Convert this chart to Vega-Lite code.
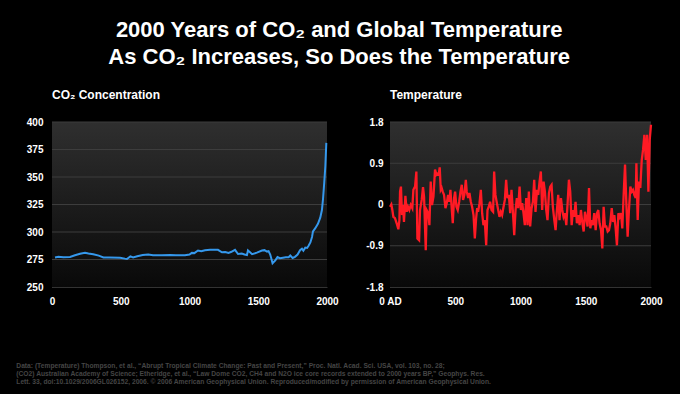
{
  "$schema": "https://vega.github.io/schema/vega-lite/v6.json",
  "background": "black",
  "padding": {"top": 19, "left": 16, "right": 18, "bottom": 9},
  "title": {
    "text": ["2000 Years of CO₂ and Global Temperature", "As CO₂ Increases, So Does the Temperature"],
    "color": "white", "font": "Liberation Sans", "fontSize": 22, "fontWeight": "bold",
    "lineHeight": 27, "anchor": "middle", "offset": 20
  },
  "config": {
    "view": {"stroke": null},
    "axis": {
      "labelColor": "white", "labelFont": "Liberation Sans", "labelFontWeight": "bold",
      "labelFontSize": 10, "ticks": false, "grid": false, "domainColor": "#444", "zindex": 1,
      "labelOverlap": false, "labelFlush": false
    }
  },
  "vconcat": [
    {
      "spacing": 26,
      "title": {
        "text": [
          "Data: (Temperature) Thompson, et al., “Abrupt Tropical Climate Change: Past and Present,” Proc. Natl. Acad. Sci. USA, vol. 103, no. 28;",
          "(CO2) Australian Academy of Science; Etheridge, et al., “Law Dome CO2, CH4 and N2O ice core records extended to 2000 years BP,” Geophys. Res.",
          "Lett. 33, doi:10.1029/2006GL026152, 2006. © 2006 American Geophysical Union. Reproduced/modified by permission of American Geophysical Union."
        ],
        "orient": "bottom", "anchor": "start", "frame": "bounds", "color": "#454545",
        "font": "Liberation Sans", "fontSize": 6.7, "fontWeight": "bold", "lineHeight": 8.2,
        "offset": 57, "dx": -10
      },
      "hconcat": [
        {
          "width": 275, "height": 165,
          "title": {"text": "CO₂ Concentration", "anchor": "start", "frame": "group", "color": "white",
                    "font": "Liberation Sans", "fontSize": 12, "fontWeight": "bold", "offset": 15},
          "layer": [
            {
              "data": {"values": [{}]},
              "mark": {"type": "rect", "color": {"gradient": "linear", "x1": 0, "y1": 0, "x2": 0, "y2": 1,
                "stops": [{"offset": 0, "color": "#2f2f2f"}, {"offset": 1, "color": "#090909"}]}},
              "encoding": {
                "x": {"datum": 0, "type": "quantitative", "title": null, "scale": {"domain": [0, 2000], "nice": false, "zero": false},
                      "axis": {"values": [0, 500, 1000, 1500, 2000], "format": "d", "labelPadding": 9, "domainColor": "#333"}},
                "x2": {"datum": 2000},
                "y": {"datum": 250, "type": "quantitative", "title": null, "scale": {"domain": [250, 400], "nice": false, "zero": false},
                      "axis": {"values": [250, 275, 300, 325, 350, 375, 400], "labelPadding": 9, "domainColor": "#555"}},
                "y2": {"datum": 400}
              }
            },
            {
              "data": {"values": [{"v": 275}, {"v": 300}, {"v": 325}, {"v": 350}, {"v": 375}, {"v": 400}]},
              "mark": {"type": "rule", "color": "#3d3d3d", "strokeWidth": 1},
              "encoding": {"y": {"field": "v", "type": "quantitative", "title": null,
                "scale": {"domain": [250, 400], "nice": false, "zero": false},
                "axis": {"values": [250, 275, 300, 325, 350, 375, 400], "labelPadding": 9, "domainColor": "#555"}}}
            },
            {
              "data": {"values": [
                {"year": 22, "ppm": 276.8}, {"year": 46, "ppm": 277.4}, {"year": 83, "ppm": 277.1}, {"year": 131, "ppm": 277.3},
                {"year": 167, "ppm": 278.8}, {"year": 204, "ppm": 280.2}, {"year": 240, "ppm": 281.2}, {"year": 265, "ppm": 280.4},
                {"year": 300, "ppm": 279.8}, {"year": 340, "ppm": 278.5}, {"year": 374, "ppm": 276.9}, {"year": 420, "ppm": 276.8},
                {"year": 495, "ppm": 276.6}, {"year": 530, "ppm": 275.8}, {"year": 545, "ppm": 275.5}, {"year": 570, "ppm": 277.8},
                {"year": 590, "ppm": 276.8}, {"year": 620, "ppm": 278}, {"year": 660, "ppm": 279}, {"year": 700, "ppm": 279.5},
                {"year": 735, "ppm": 278.8}, {"year": 800, "ppm": 278.8}, {"year": 860, "ppm": 279.2}, {"year": 900, "ppm": 278.8},
                {"year": 967, "ppm": 278.8}, {"year": 1000, "ppm": 279.5}, {"year": 1017, "ppm": 281}, {"year": 1035, "ppm": 280.8},
                {"year": 1062, "ppm": 283.2}, {"year": 1085, "ppm": 282.6}, {"year": 1113, "ppm": 283.4}, {"year": 1150, "ppm": 283.8},
                {"year": 1207, "ppm": 283.8}, {"year": 1236, "ppm": 281.6}, {"year": 1260, "ppm": 281.8}, {"year": 1284, "ppm": 281},
                {"year": 1305, "ppm": 282}, {"year": 1331, "ppm": 283.8}, {"year": 1353, "ppm": 280}, {"year": 1380, "ppm": 280.5},
                {"year": 1400, "ppm": 279.5}, {"year": 1418, "ppm": 279}, {"year": 1425, "ppm": 283.2}, {"year": 1440, "ppm": 281.5},
                {"year": 1455, "ppm": 279.8}, {"year": 1490, "ppm": 281.2}, {"year": 1527, "ppm": 283.2}, {"year": 1545, "ppm": 283.5},
                {"year": 1564, "ppm": 282.2}, {"year": 1575, "ppm": 282.6}, {"year": 1587, "ppm": 279.5}, {"year": 1597, "ppm": 275},
                {"year": 1604, "ppm": 271.6}, {"year": 1624, "ppm": 274.2}, {"year": 1640, "ppm": 277.2}, {"year": 1658, "ppm": 276.2},
                {"year": 1680, "ppm": 276.6}, {"year": 1700, "ppm": 277}, {"year": 1721, "ppm": 277}, {"year": 1733, "ppm": 278.6},
                {"year": 1750, "ppm": 276.4}, {"year": 1767, "ppm": 277.4}, {"year": 1786, "ppm": 279.5}, {"year": 1804, "ppm": 283.4},
                {"year": 1818, "ppm": 284.8}, {"year": 1828, "ppm": 283}, {"year": 1842, "ppm": 285.8}, {"year": 1855, "ppm": 285.5},
                {"year": 1866, "ppm": 287.5}, {"year": 1879, "ppm": 290.5}, {"year": 1891, "ppm": 295.5}, {"year": 1898, "ppm": 300.5},
                {"year": 1915, "ppm": 303.5}, {"year": 1934, "ppm": 307.5}, {"year": 1951, "ppm": 313}, {"year": 1963, "ppm": 320},
                {"year": 1971, "ppm": 330}, {"year": 1980, "ppm": 345}, {"year": 1988, "ppm": 360}, {"year": 1995, "ppm": 381}
              ]},
              "mark": {"type": "line", "color": "#3598ec", "strokeWidth": 2},
              "encoding": {
                "x": {"field": "year", "type": "quantitative", "title": null,
                      "scale": {"domain": [0, 2000], "nice": false, "zero": false},
                      "axis": {"values": [0, 500, 1000, 1500, 2000], "format": "d", "labelPadding": 9, "domainColor": "#333"}},
                "y": {"field": "ppm", "type": "quantitative", "title": null,
                      "scale": {"domain": [250, 400], "nice": false, "zero": false},
                      "axis": {"values": [250, 275, 300, 325, 350, 375, 400], "labelPadding": 9, "domainColor": "#555"}}
              }
            }
          ]
        },
        {
          "width": 261, "height": 165,
          "title": {"text": "Temperature", "anchor": "start", "frame": "group", "color": "white",
                    "font": "Liberation Sans", "fontSize": 12, "fontWeight": "bold", "offset": 15},
          "layer": [
            {
              "data": {"values": [{}]},
              "mark": {"type": "rect", "color": {"gradient": "linear", "x1": 0, "y1": 0, "x2": 0, "y2": 1,
                "stops": [{"offset": 0, "color": "#2f2f2f"}, {"offset": 1, "color": "#090909"}]}},
              "encoding": {
                "x": {"datum": 0, "type": "quantitative", "title": null, "scale": {"domain": [0, 2000], "nice": false, "zero": false},
                      "axis": {"values": [0, 500, 1000, 1500, 2000], "format": "d", "labelPadding": 9, "domainColor": "#333",
                               "labelExpr": "datum.value == 0 ? '0 AD' : datum.label"}},
                "x2": {"datum": 2000},
                "y": {"datum": -1.8, "type": "quantitative", "title": null, "scale": {"domain": [-1.8, 1.8], "nice": false, "zero": false},
                      "axis": {"values": [-1.8, -0.9, 0, 0.9, 1.8], "labelPadding": 7, "domainColor": "#555",
                               "labelExpr": "datum.value == 0 ? '0' : replace(format(datum.value, '.1f'), '−', '-')"}},
                "y2": {"datum": 1.8}
              }
            },
            {
              "data": {"values": [{"v": -0.9}, {"v": 0}, {"v": 0.9}, {"v": 1.8}]},
              "mark": {"type": "rule", "color": "#3d3d3d", "strokeWidth": 1},
              "encoding": {"y": {"field": "v", "type": "quantitative", "title": null,
                "scale": {"domain": [-1.8, 1.8], "nice": false, "zero": false},
                "axis": {"values": [-1.8, -0.9, 0, 0.9, 1.8], "labelPadding": 7, "domainColor": "#555",
                         "labelExpr": "datum.value == 0 ? '0' : replace(format(datum.value, '.1f'), '−', '-')"}}}
            },
            {
              "data": {"values": [
                {"year": 0, "t": -0.05}, {"year": 10, "t": 0.0}, {"year": 18, "t": -0.12}, {"year": 26, "t": -0.27},
                {"year": 38, "t": -0.3}, {"year": 51, "t": -0.41}, {"year": 64, "t": -0.54}, {"year": 72, "t": -0.34},
                {"year": 77, "t": 0.28}, {"year": 84, "t": 0.39}, {"year": 92, "t": -0.23}, {"year": 100, "t": -0.01},
                {"year": 107, "t": -0.38}, {"year": 118, "t": 0.19}, {"year": 128, "t": -0.16}, {"year": 138, "t": -0.05},
                {"year": 148, "t": -0.12}, {"year": 159, "t": -0.01}, {"year": 171, "t": -0.08}, {"year": 179, "t": 0.32},
                {"year": 192, "t": 0.39}, {"year": 202, "t": 0.72}, {"year": 210, "t": -0.74}, {"year": 223, "t": -0.78},
                {"year": 230, "t": -0.12}, {"year": 243, "t": 0.1}, {"year": 253, "t": 0.38}, {"year": 261, "t": 0.17},
                {"year": 274, "t": -1.0}, {"year": 281, "t": -0.12}, {"year": 294, "t": -0.19}, {"year": 302, "t": -0.45},
                {"year": 312, "t": 0.5}, {"year": 322, "t": -0.01}, {"year": 333, "t": 0.17}, {"year": 345, "t": 0.76},
                {"year": 356, "t": 0.65}, {"year": 363, "t": 0.67}, {"year": 373, "t": 0.65}, {"year": 381, "t": 0.81},
                {"year": 389, "t": 0.32}, {"year": 396, "t": 0.36}, {"year": 404, "t": 0.28}, {"year": 414, "t": 0.21},
                {"year": 425, "t": -0.08}, {"year": 435, "t": 0.03}, {"year": 445, "t": 0.21}, {"year": 455, "t": 0.06},
                {"year": 463, "t": 0.32}, {"year": 471, "t": -0.01}, {"year": 481, "t": -0.41}, {"year": 491, "t": 0.14},
                {"year": 499, "t": 0.28}, {"year": 509, "t": -0.05}, {"year": 519, "t": -0.12}, {"year": 530, "t": 0.06},
                {"year": 540, "t": 0.28}, {"year": 550, "t": 0.43}, {"year": 560, "t": 0.1}, {"year": 570, "t": 0.21},
                {"year": 581, "t": 0.54}, {"year": 588, "t": 0.28}, {"year": 599, "t": 0.14}, {"year": 609, "t": 0.25},
                {"year": 619, "t": 0.06}, {"year": 629, "t": -0.05}, {"year": 640, "t": -0.23}, {"year": 650, "t": -0.74},
                {"year": 660, "t": -0.3}, {"year": 668, "t": -0.08}, {"year": 675, "t": -0.16}, {"year": 686, "t": 0.03},
                {"year": 696, "t": 0.32}, {"year": 706, "t": -0.19}, {"year": 716, "t": -0.45}, {"year": 726, "t": -0.34},
                {"year": 737, "t": -0.89}, {"year": 747, "t": -0.12}, {"year": 757, "t": -0.05}, {"year": 767, "t": 0.06},
                {"year": 778, "t": -0.12}, {"year": 790, "t": -0.16}, {"year": 798, "t": 0.72}, {"year": 808, "t": 0.21},
                {"year": 819, "t": 0.03}, {"year": 829, "t": -0.12}, {"year": 839, "t": -0.27}, {"year": 849, "t": -0.16},
                {"year": 859, "t": -0.23}, {"year": 870, "t": -0.05}, {"year": 880, "t": 0.1}, {"year": 890, "t": 0.54},
                {"year": 900, "t": 0.14}, {"year": 911, "t": 0.21}, {"year": 921, "t": -0.19}, {"year": 931, "t": 0.32},
                {"year": 941, "t": -0.12}, {"year": 952, "t": -0.67}, {"year": 962, "t": -0.12}, {"year": 972, "t": 0.14},
                {"year": 982, "t": -0.08}, {"year": 993, "t": 0.39}, {"year": 1003, "t": -0.12}, {"year": 1013, "t": 0.03},
                {"year": 1023, "t": -0.19}, {"year": 1033, "t": -0.45}, {"year": 1044, "t": 0.14}, {"year": 1054, "t": -0.45},
                {"year": 1064, "t": 0.28}, {"year": 1074, "t": -0.48}, {"year": 1085, "t": -0.08}, {"year": 1095, "t": 0.06},
                {"year": 1105, "t": 0.54}, {"year": 1115, "t": -0.16}, {"year": 1126, "t": 0.32}, {"year": 1136, "t": 0.21},
                {"year": 1146, "t": 0.5}, {"year": 1156, "t": 0.72}, {"year": 1166, "t": -0.12}, {"year": 1177, "t": 0.5},
                {"year": 1187, "t": 0.28}, {"year": 1197, "t": -0.12}, {"year": 1207, "t": -0.34}, {"year": 1218, "t": 0.25},
                {"year": 1228, "t": 0.39}, {"year": 1238, "t": 0.43}, {"year": 1248, "t": -0.05}, {"year": 1259, "t": -0.34},
                {"year": 1269, "t": -0.56}, {"year": 1279, "t": -0.12}, {"year": 1289, "t": 0.21}, {"year": 1299, "t": -0.34},
                {"year": 1310, "t": 0.14}, {"year": 1320, "t": -0.12}, {"year": 1330, "t": -0.27}, {"year": 1340, "t": -0.19},
                {"year": 1351, "t": -0.45}, {"year": 1361, "t": 0.03}, {"year": 1371, "t": 0.54}, {"year": 1381, "t": 0.28},
                {"year": 1392, "t": -0.45}, {"year": 1402, "t": -0.12}, {"year": 1412, "t": -0.27}, {"year": 1422, "t": 0.06},
                {"year": 1432, "t": -0.41}, {"year": 1443, "t": -0.23}, {"year": 1453, "t": -0.45}, {"year": 1463, "t": -0.12},
                {"year": 1473, "t": -0.38}, {"year": 1484, "t": -0.59}, {"year": 1494, "t": -0.16}, {"year": 1504, "t": -0.3},
                {"year": 1514, "t": -0.48}, {"year": 1525, "t": 0.36}, {"year": 1535, "t": -0.52}, {"year": 1545, "t": -0.34},
                {"year": 1555, "t": -0.45}, {"year": 1565, "t": -0.19}, {"year": 1576, "t": -0.56}, {"year": 1586, "t": -0.19},
                {"year": 1596, "t": -0.12}, {"year": 1606, "t": -0.41}, {"year": 1617, "t": -0.56}, {"year": 1627, "t": -0.96},
                {"year": 1637, "t": -0.05}, {"year": 1647, "t": -0.48}, {"year": 1657, "t": -0.48}, {"year": 1668, "t": -0.59},
                {"year": 1678, "t": -0.56}, {"year": 1688, "t": -0.41}, {"year": 1699, "t": -0.08}, {"year": 1709, "t": -0.38},
                {"year": 1719, "t": -0.23}, {"year": 1729, "t": -0.52}, {"year": 1739, "t": -0.89}, {"year": 1750, "t": -0.19},
                {"year": 1760, "t": -0.27}, {"year": 1770, "t": -0.19}, {"year": 1780, "t": -0.52}, {"year": 1791, "t": 0.25},
                {"year": 1801, "t": 0.87}, {"year": 1811, "t": 0.03}, {"year": 1821, "t": -0.7}, {"year": 1831, "t": -0.12},
                {"year": 1842, "t": 0.39}, {"year": 1852, "t": 0.28}, {"year": 1862, "t": 0.32}, {"year": 1872, "t": 0.21},
                {"year": 1883, "t": 0.14}, {"year": 1888, "t": 0.9}, {"year": 1898, "t": -0.34}, {"year": 1908, "t": 0.5},
                {"year": 1918, "t": 0.36}, {"year": 1929, "t": 0.97}, {"year": 1939, "t": 1.19}, {"year": 1949, "t": 1.52},
                {"year": 1960, "t": 0.97}, {"year": 1970, "t": 1.52}, {"year": 1980, "t": 0.28}, {"year": 1990, "t": 1.41},
                {"year": 2000, "t": 1.74}
              ]},
              "mark": {"type": "line", "color": "#ff1a24", "strokeWidth": 2.3},
              "encoding": {
                "x": {"field": "year", "type": "quantitative", "title": null,
                      "scale": {"domain": [0, 2000], "nice": false, "zero": false},
                      "axis": {"values": [0, 500, 1000, 1500, 2000], "format": "d", "labelPadding": 9, "domainColor": "#333",
                               "labelExpr": "datum.value == 0 ? '0 AD' : datum.label"}},
                "y": {"field": "t", "type": "quantitative", "title": null,
                      "scale": {"domain": [-1.8, 1.8], "nice": false, "zero": false},
                      "axis": {"values": [-1.8, -0.9, 0, 0.9, 1.8], "labelPadding": 7, "domainColor": "#555",
                               "labelExpr": "datum.value == 0 ? '0' : replace(format(datum.value, '.1f'), '−', '-')"}}
              }
            }
          ]
        }
      ]
    }
  ]
}
